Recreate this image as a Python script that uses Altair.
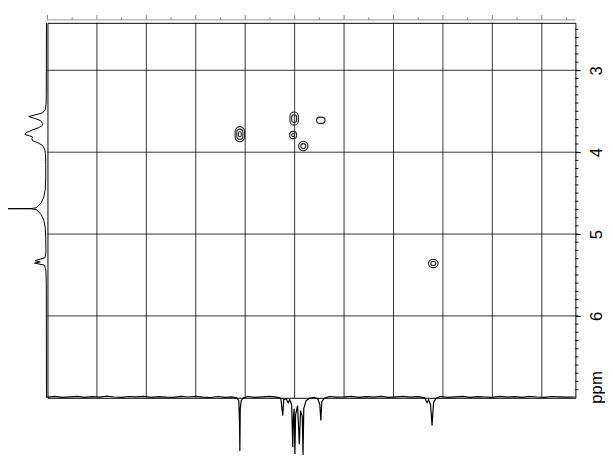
import altair as alt
import pandas as pd

W, H = 535, 380

# ---- axes ------------------------------------------------------------
H_DOMAIN = [2.42, 7.0]      # 1H ppm (vertical, grows downward)
C_DOMAIN = [20.0, 126.8]    # 13C ppm (horizontal, ticks only)

h_label_values = [3, 4, 5, 6]
h_minor_values = [round(2.5 + 0.1 * i, 1) for i in range(45)]
c_grid_values = [30, 40, 50, 60, 70, 80, 90, 100, 110, 120]
c_major_ticks = [20, 30, 40, 50, 60, 70, 80, 90, 100, 110, 120]
c_minor_ticks = [25, 35, 45, 55, 65, 75, 85, 95, 105, 115, 125]

# ---- 2D cross peaks (contour levels) ---------------------------------
cont_c = [58.92, 58.92, 58.92, 69.90, 69.90, 69.70, 69.70, 71.75, 71.75, 75.30, 98.05, 98.05]
cont_h = [3.78, 3.78, 3.78, 3.59, 3.59, 3.79, 3.79, 3.925, 3.925, 3.61, 5.36, 5.36]
cont_dc = [0.95, 0.62, 0.30, 0.85, 0.50, 0.70, 0.30, 0.95, 0.50, 0.85, 0.95, 0.50]
cont_dh = [0.092, 0.062, 0.030, 0.080, 0.048, 0.044, 0.018, 0.058, 0.030, 0.038, 0.050, 0.024]

# ---- 1H projection (left) --------------------------------------------
h_ppm = [2.42, 3.30, 3.40, 3.48, 3.52, 3.545, 3.565, 3.585, 3.615, 3.65, 3.675, 3.70,
         3.735, 3.765, 3.785, 3.80, 3.815, 3.835, 3.86, 3.885, 3.92, 3.96, 4.02, 4.15,
         4.30, 4.45, 4.55, 4.62, 4.66, 4.68, 4.688, 4.69, 4.692, 4.70, 4.72, 4.76,
         4.83, 4.93, 5.05, 5.22, 5.29, 5.325, 5.34, 5.355, 5.38, 5.45, 5.60, 7.0]
h_int = [0, 0.5, 1, 3, 10, 30, 46, 32, 15, 10, 11, 20,
         40, 54, 56, 44, 36, 38, 36, 22, 10, 5, 2.5, 2,
         2, 3, 7, 14, 22, 27, 40, 100, 40, 27, 22, 14,
         7, 3, 2, 1.5, 4, 30, 16, 31, 5, 1.5, 0.5, 0]

# ---- 13C projection (bottom, negative peaks) -------------------------
c_ppm = [20.0, 21.5, 23.0, 24.5, 26.0, 27.5, 29.0, 30.5, 32.0, 33.5, 35.0, 36.5,
         38.0, 39.5, 41.0, 42.5, 44.0, 45.5, 47.0, 48.5, 50.0, 51.5, 53.0, 54.5,
         56.0, 57.3, 58.3, 58.7, 58.85, 58.92, 59.0, 59.2, 59.6, 60.5, 62.0, 63.5,
         65.0, 66.3, 67.2, 67.6, 67.8, 68.3, 68.7, 69.0, 69.4, 69.62, 69.75, 69.9,
         70.05, 70.2, 70.6, 70.95, 71.2, 71.55, 71.7, 71.85, 72.3, 73.0, 74.0, 74.7,
         75.1, 75.3, 75.5, 76.0, 77.0, 78.5, 80.0, 81.5, 83.0, 84.5, 86.0, 87.5,
         89.0, 90.5, 92.0, 93.5, 95.0, 96.3, 96.8, 97.1, 97.5, 97.8, 98.1, 98.6,
         99.5, 101.0, 102.5, 104.0, 105.5, 107.0, 108.5, 110.0, 111.5, 113.0, 114.5, 116.0,
         117.5, 119.0, 120.5, 122.0, 123.5, 125.0, 126.8]
c_depth = [0.3, -0.5, 0.6, 0.1, -0.4, 0.5, -0.2, 0.4, -0.6, 0.2, 0.5, -0.3,
           0.1, -0.5, 0.6, -0.2, 0.3, 0.6, -0.4, 0.2, -0.5, 0.4, 0.7, -0.3,
           0.5, 0.1, 1.2, 4, 25, 55, 12, 4, 1.2, -0.3, 0.5, 0.1,
           -0.4, 0.3, 1.5, 19, 3, 2, 6, 3, 8, 51, 20, 12,
           58, 18, 9, 48, 14, 20, 59, 12, 4, 1.5, 0.5, 2.5,
           8, 24, 5, 1.5, -0.3, 0.4, 0.1, -0.5, 0.6, -0.2, 0.3, -0.4,
           0.5, 0.1, -0.4, 0.4, -0.2, 1.0, 6, 3, 8, 29, 6, 1.5,
           -0.3, 0.5, 0.1, -0.4, 0.6, -0.2, 0.2, 0.5, -0.4, 0.3, -0.1, 0.5,
           -0.4, 0.2, 0.6, -0.3, 0.1, 0.4, 0.2]

FONT = "Liberation Sans"

xs = alt.Scale(domain=C_DOMAIN, nice=False, zero=False)
ys = alt.Scale(domain=H_DOMAIN, nice=False, zero=False, reverse=True)

h_axis = alt.Axis(
    orient="right", values=h_label_values, grid=False, domain=False,
    ticks=True, tickSize=5, tickColor="black", tickWidth=1,
    labelAngle=270, labelAlign="center", labelBaseline="alphabetic",
    labelPadding=21, labelFont=FONT, labelFontSize=17, labelColor="black",
    title="ppm", titleAngle=270, titleAlign="center", titleBaseline="alphabetic",
    titleX=26.5, titleY=369, titleFont=FONT, titleFontSize=17,
    titleFontWeight="normal", titleColor="black",
)

df_cgrid = pd.DataFrame({"c": c_grid_values})
df_hgrid = pd.DataFrame({"h": h_label_values})
df_cmaj = pd.DataFrame({"c": c_major_ticks})
df_cmin = pd.DataFrame({"c": c_minor_ticks})
df_hmin = pd.DataFrame({"h": h_minor_values})
df_cont = pd.DataFrame({"c": cont_c, "h": cont_h, "dc": cont_dc, "dh": cont_dh})
df_h = pd.DataFrame({"h": h_ppm, "i": h_int, "idx": list(range(len(h_ppm)))})
df_c = pd.DataFrame({"c": c_ppm, "d": c_depth})
df_top = pd.DataFrame({"c": [C_DOMAIN[0]], "c2": [C_DOMAIN[1]]})

grid_v = alt.Chart(df_cgrid).mark_rule(color="black", strokeWidth=1, opacity=0.8).encode(
    x=alt.X("c:Q", scale=xs, axis=None)
)
grid_h = alt.Chart(df_hgrid).mark_rule(color="black", strokeWidth=1, opacity=0.8).encode(
    y=alt.Y("h:Q", scale=ys, axis=h_axis)
)
minor_right = alt.Chart(df_hmin).mark_rule(color="black", strokeWidth=1).encode(
    y=alt.Y("h:Q", scale=ys, axis=h_axis),
    x=alt.value(W), x2=alt.value(W + 3),
)
top_line = alt.Chart(df_top).mark_rule(color="#999999", strokeWidth=1).encode(
    x=alt.X("c:Q", scale=xs, axis=None), x2="c2:Q", y=alt.value(-3)
)
top_major = alt.Chart(df_cmaj).mark_rule(color="#888888", strokeWidth=1).encode(
    x=alt.X("c:Q", scale=xs, axis=None), y=alt.value(-8), y2=alt.value(-3)
)
top_minor = alt.Chart(df_cmin).mark_rule(color="#888888", strokeWidth=1).encode(
    x=alt.X("c:Q", scale=xs, axis=None), y=alt.value(-5.5), y2=alt.value(-3)
)
contours = alt.Chart(df_cont).transform_calculate(
    c0="datum.c - datum.dc", c1="datum.c + datum.dc",
    h0="datum.h - datum.dh", h1="datum.h + datum.dh",
).mark_rect(fillOpacity=0, stroke="#222222", strokeWidth=1.1, cornerRadius=10).encode(
    x=alt.X("c0:Q", scale=xs, axis=None), x2="c1:Q",
    y=alt.Y("h0:Q", scale=ys, axis=h_axis), y2="h1:Q",
)

main = alt.layer(grid_v, grid_h, minor_right, top_line, top_major, top_minor, contours)

left_spec = alt.Chart(df_h).mark_line(color="black", strokeWidth=1).encode(
    y=alt.Y("h:Q", scale=alt.Scale(domain=H_DOMAIN, nice=False, zero=False, reverse=True), axis=None),
    x=alt.X("i:Q", scale=alt.Scale(domain=[0, 100], range=[-1, -40], nice=False, zero=False), axis=None),
    order="idx:Q",
)
bottom_spec = alt.Chart(df_c).mark_line(color="black", strokeWidth=1.2).encode(
    x=alt.X("c:Q", scale=alt.Scale(domain=C_DOMAIN, nice=False, zero=False), axis=None),
    y=alt.Y("d:Q", scale=alt.Scale(domain=[0, 60], range=[379, 439], nice=False, zero=False), axis=None),
)

chart = alt.layer(main, left_spec, bottom_spec).resolve_scale(
    x="independent", y="independent"
).properties(
    width=W, height=H,
    padding={"left": 40, "top": 12, "right": 30, "bottom": 59},
    autosize=alt.AutoSizeParams(type="none"),
).configure_view(stroke="black", strokeWidth=1)

chart.save("out.html", embed_options={"renderer": "svg", "actions": False})
